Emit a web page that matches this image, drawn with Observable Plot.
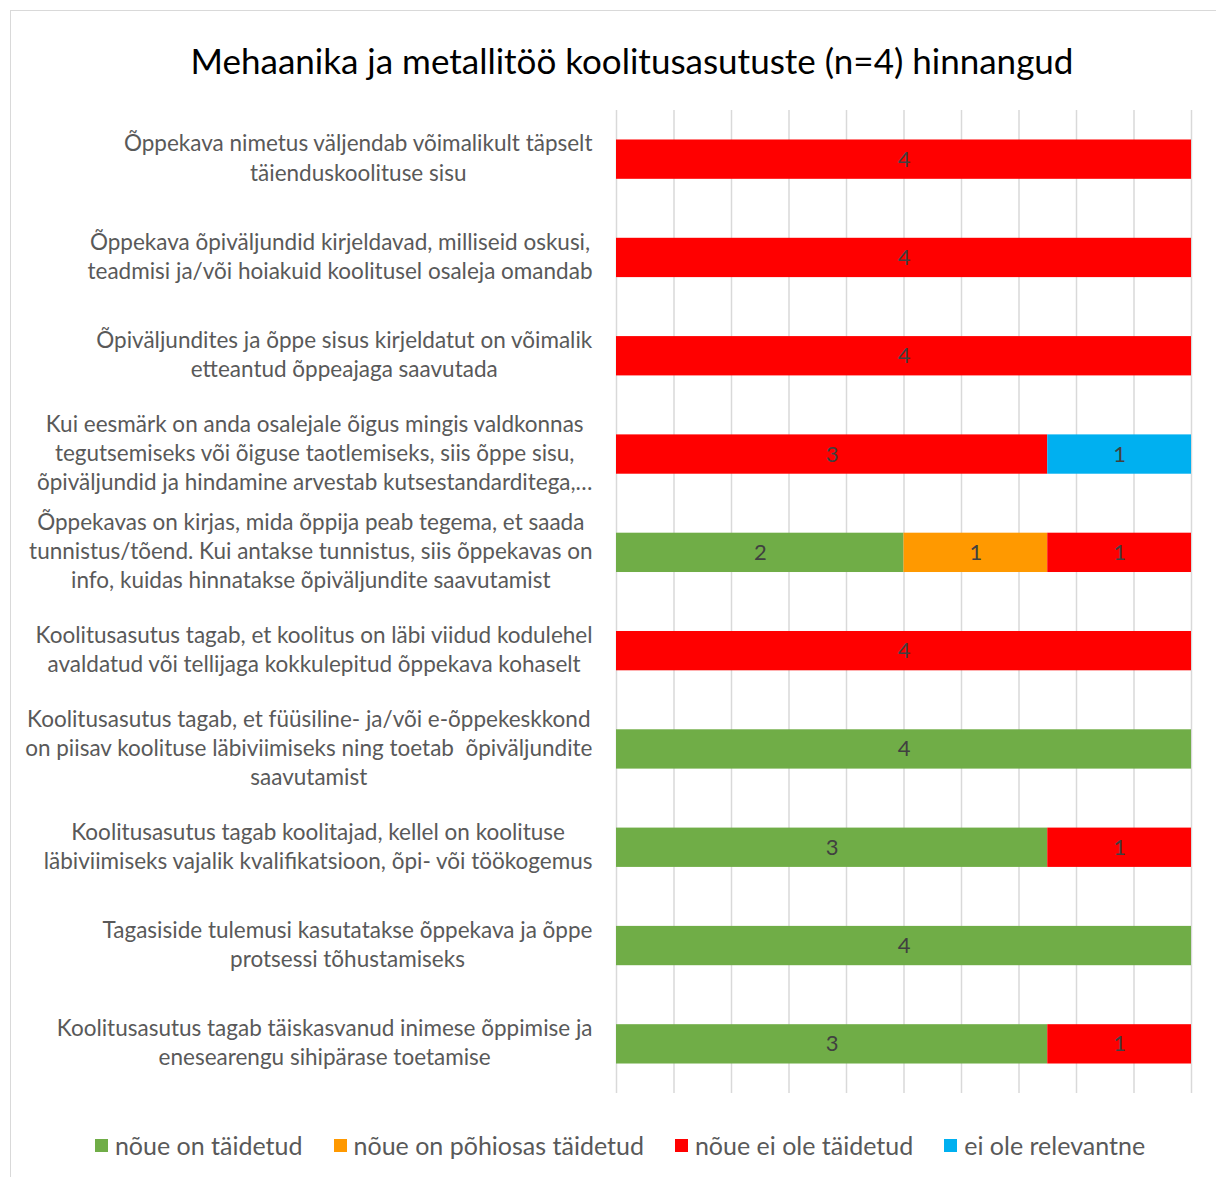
<!DOCTYPE html>
<html>
<head>
<meta charset="utf-8">
<script src="https://cdn.jsdelivr.net/npm/d3@7"></script>
<script src="https://cdn.jsdelivr.net/npm/@observablehq/plot@0.6"></script>
<style>
  html, body { margin: 0; padding: 0; background: #fff; overflow: hidden; }
  body { width: 1216px; height: 1177px; position: relative; font-family: Lato, "Open Sans", sans-serif; }
  #frame { position: absolute; left: 10px; top: 10px; width: 1230px; height: 1190px; border: 1px solid #d9d9d9; box-sizing: border-box; }
  #title { position: absolute; left: 0; top: 38px; width: 1216px; height: 44px; line-height: 44px; text-align: center; padding-left: 48px; box-sizing: border-box; font-size: 35px; color: #000; }
  #chart { position: absolute; left: 0; top: 95px; }
  #legend { position: absolute; left: 0; top: 1129px; width: 1216px; height: 32px; display: flex; justify-content: center; align-items: center; gap: 31px; padding-left: 24px; box-sizing: border-box; font-size: 25px; color: #595959; }
  .li { display: flex; align-items: center; white-space: nowrap; }
  .sw { width: 13px; height: 13px; margin-right: 7px; display: inline-block; }
</style>
</head>
<body>
<div id="frame"></div>
<div id="title">Mehaanika ja metallitöö koolitusasutuste (n=4) hinnangud</div>
<div id="chart"></div>
<div id="legend"></div>
<script>
const categories = [
  "Õppekava nimetus väljendab võimalikult täpselt\ntäienduskoolituse sisu",
  "Õppekava õpiväljundid kirjeldavad, milliseid oskusi,\nteadmisi ja/või hoiakuid koolitusel osaleja omandab",
  "Õpiväljundites ja õppe sisus kirjeldatut on võimalik\netteantud õppeajaga saavutada",
  "Kui eesmärk on anda osalejale õigus mingis valdkonnas\ntegutsemiseks või õiguse taotlemiseks, siis õppe sisu,\nõpiväljundid ja hindamine arvestab kutsestandarditega,…",
  "Õppekavas on kirjas, mida õppija peab tegema, et saada\ntunnistus/tõend. Kui antakse tunnistus, siis õppekavas on\ninfo, kuidas hinnatakse õpiväljundite saavutamist",
  "Koolitusasutus tagab, et koolitus on läbi viidud kodulehel\navaldatud või tellijaga kokkulepitud õppekava kohaselt",
  "Koolitusasutus tagab, et füüsiline- ja/või e-õppekeskkond\non piisav koolituse läbiviimiseks ning toetab  õpiväljundite\nsaavutamist",
  "Koolitusasutus tagab koolitajad, kellel on koolituse\nläbiviimiseks vajalik kvalifikatsioon, õpi- või töökogemus",
  "Tagasiside tulemusi kasutatakse õppekava ja õppe\nprotsessi tõhustamiseks",
  "Koolitusasutus tagab täiskasvanud inimese õppimise ja\nenesearengu sihipärase toetamise"
];
const seriesNames = ["nõue on täidetud", "nõue on põhiosas täidetud", "nõue ei ole täidetud", "ei ole relevantne"];
const seriesColors = ["#70AD47", "#FF9900", "#FF0000", "#00B0F0"];
const taidetud      = [0, 0, 0, 0, 2, 0, 4, 3, 4, 3];
const pohiosas      = [0, 0, 0, 0, 1, 0, 0, 0, 0, 0];
const eiOleTaidetud = [4, 4, 4, 3, 1, 4, 0, 1, 0, 1];
const eiRelevantne  = [0, 0, 0, 1, 0, 0, 0, 0, 0, 0];
const gridTicks = [0, 0.4, 0.8, 1.2, 1.6, 2, 2.4, 2.8, 3.2, 3.6, 4];

const seriesValues = [taidetud, pohiosas, eiOleTaidetud, eiRelevantne];
const data = [];
categories.forEach((c, i) => {
  seriesNames.forEach((s, j) => {
    const v = seriesValues[j][i];
    if (v > 0) data.push({category: c, series: s, value: v});
  });
});

const plot = Plot.plot({
  width: 1216,
  height: 1010,
  marginLeft: 616,
  marginRight: 25,
  marginTop: 15,
  marginBottom: 12,
  x: {domain: [0, 4], axis: null},
  y: {domain: categories, axis: null, paddingInner: 0.6, paddingOuter: 0.3, round: false},
  color: {domain: seriesNames, range: seriesColors},
  style: {fontFamily: "Lato, 'Open Sans', sans-serif", background: "transparent"},
  marks: [
    Plot.ruleX(gridTicks, {stroke: "#d9d9d9", strokeWidth: 1.5}),
    Plot.barX(data, Plot.stackX({x: "value", y: "category", fill: "series", z: "series", order: seriesNames})),
    Plot.text(data, Plot.stackX({x: "value", y: "category", z: "series", text: d => String(d.value), order: seriesNames, fill: "#404040", fontSize: 22})),
    Plot.text(categories, {y: d => d, text: d => d, frameAnchor: "left", dx: -24, dy: -3, textAnchor: "middle", lineAnchor: "middle", lineHeight: 1.3, fill: "#595959", fontSize: 22.5, ariaDescription: "ylabels"})
  ]
});
document.getElementById("chart").append(plot);

// center each multi-line label on its widest line, right edge at the label column
plot.querySelectorAll('g[aria-description="ylabels"] text').forEach(t => {
  const w = t.getBBox().width;
  t.setAttribute("transform", (t.getAttribute("transform") || "") + ` translate(${-w / 2},0)`);
});

const legend = document.getElementById("legend");
seriesNames.forEach((s, j) => {
  const item = document.createElement("div");
  item.className = "li";
  const sw = document.createElement("span");
  sw.className = "sw";
  sw.style.background = seriesColors[j];
  item.append(sw, document.createTextNode(s));
  legend.append(item);
});
</script>
</body>
</html>
